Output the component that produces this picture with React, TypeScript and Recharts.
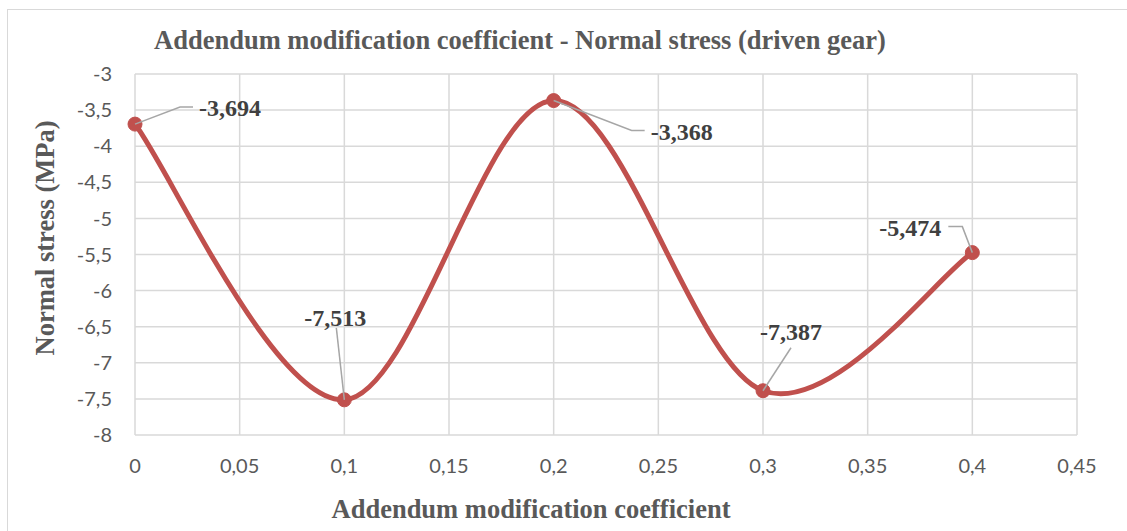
import React from 'react'
import { LineChart, Line, XAxis, YAxis, CartesianGrid } from 'recharts'

const coefficients = [0, 0.1, 0.2, 0.3, 0.4]
const normalStress = [-3.694, -7.513, -3.368, -7.387, -5.474]
const xTicks = [0, 0.05, 0.1, 0.15, 0.2, 0.25, 0.3, 0.35, 0.4, 0.45]
const yTicks = [-8, -7.5, -7, -6.5, -6, -5.5, -5, -4.5, -4, -3.5, -3]

const data = coefficients.map((x, i) => ({ x, y: normalStress[i] }))

// leader line + label placement for each point (pixels relative to the dot)
const labelPlacement = [
  { path: [[45, -17], [58, -17]], tx: 64, ty: -16, anchor: 'start' },
  { path: [[-8, -72]], tx: -9, ty: -82, anchor: 'middle' },
  { path: [[78, 30], [91, 30]], tx: 97, ty: 31, anchor: 'start' },
  { path: [[28, -43]], tx: 28, ty: -59, anchor: 'middle' },
  { path: [[-10, -26], [-24, -26]], tx: -31, ty: -25, anchor: 'end' },
]

const comma = (v: number) => String(v).replace('.', ',')

// Excel-like smoothed line (Catmull-Rom converted to bezier segments)
function excelSmooth(context: any) {
  let pts: number[][] = []
  return {
    areaStart() {},
    areaEnd() {},
    lineStart() {
      pts = []
    },
    lineEnd() {
      if (!pts.length) return
      context.moveTo(pts[0][0], pts[0][1])
      for (let i = 0; i < pts.length - 1; i++) {
        const p0 = pts[Math.max(i - 1, 0)]
        const p1 = pts[i]
        const p2 = pts[i + 1]
        const p3 = pts[Math.min(i + 2, pts.length - 1)]
        context.bezierCurveTo(
          p1[0] + (p2[0] - p0[0]) / 6,
          p1[1] + (p2[1] - p0[1]) / 6,
          p2[0] - (p3[0] - p1[0]) / 6,
          p2[1] - (p3[1] - p1[1]) / 6,
          p2[0],
          p2[1]
        )
      }
    },
    point(x: number, y: number) {
      pts.push([+x, +y])
    },
  }
}

const serif = '"Liberation Serif", "Times New Roman", serif'
const sans = 'Lato, "Liberation Sans", sans-serif'

function PointLabel(props: any) {
  const { x, y, index, value } = props
  const p = labelPlacement[index]
  if (!p) return null
  const d = [[0, 0], ...p.path].map(([dx, dy]) => `${x + dx},${y + dy}`).join(' ')
  return (
    <g>
      <polyline points={d} fill="none" stroke="#a6a6a6" strokeWidth={1.5} />
      <text
        x={x + p.tx}
        y={y + p.ty}
        textAnchor={p.anchor}
        dominantBaseline="central"
        fontFamily={serif}
        fontWeight="bold"
        fontSize={24}
        fill="#404040"
      >
        {comma(value)}
      </text>
    </g>
  )
}

export default function App() {
  return (
    <div style={{ position: 'absolute', left: 0, top: 0, width: 1127, height: 531, background: '#fff', overflow: 'hidden' }}>
      <div
        style={{
          position: 'absolute',
          left: 7,
          top: 9,
          width: 1140,
          height: 540,
          border: '1.5px solid #d9d9d9',
        }}
      />
      <LineChart
        width={1127}
        height={531}
        data={data}
        margin={{ top: 74, right: 50, bottom: 56, left: 75 }}
        style={{ position: 'absolute', left: 0, top: 0 }}
      >
        <CartesianGrid stroke="#d9d9d9" strokeWidth={1.5} />
        <XAxis
          dataKey="x"
          type="number"
          domain={[0, 0.45]}
          ticks={xTicks}
          tickFormatter={comma}
          axisLine={false}
          tickLine={false}
          tickSize={0}
          tickMargin={24}
          height={40}
          tick={{ fontSize: 20, fill: '#595959', fontFamily: sans }}
          interval={0}
        />
        <YAxis
          type="number"
          domain={[-8, -3]}
          ticks={yTicks}
          tickFormatter={comma}
          axisLine={false}
          tickLine={false}
          tickSize={0}
          tickMargin={23}
          width={60}
          tick={{ fontSize: 20, fill: '#595959', fontFamily: sans }}
          interval={0}
        />
        <Line
          dataKey="y"
          type={excelSmooth as any}
          stroke="#c0504d"
          strokeWidth={5}
          dot={{ r: 7, fill: '#c0504d', stroke: '#c0504d', strokeWidth: 1 }}
          activeDot={false}
          isAnimationActive={false}
          label={<PointLabel />}
        />
        <text
          x={520}
          y={40}
          textAnchor="middle"
          dominantBaseline="central"
          fontFamily={serif}
          fontWeight="bold"
          fontSize={26.5}
          fill="#595959"
        >
          Addendum modification coefficient - Normal stress (driven gear)
        </text>
        <text
          x={531}
          y={509}
          textAnchor="middle"
          dominantBaseline="central"
          fontFamily={serif}
          fontWeight="bold"
          fontSize={26.5}
          fill="#595959"
        >
          Addendum modification coefficient
        </text>
        <text
          x={45}
          y={238}
          transform="rotate(-90 45 238)"
          textAnchor="middle"
          dominantBaseline="central"
          fontFamily={serif}
          fontWeight="bold"
          fontSize={26.5}
          fill="#595959"
        >
          Normal stress (MPa)
        </text>
      </LineChart>
    </div>
  )
}
